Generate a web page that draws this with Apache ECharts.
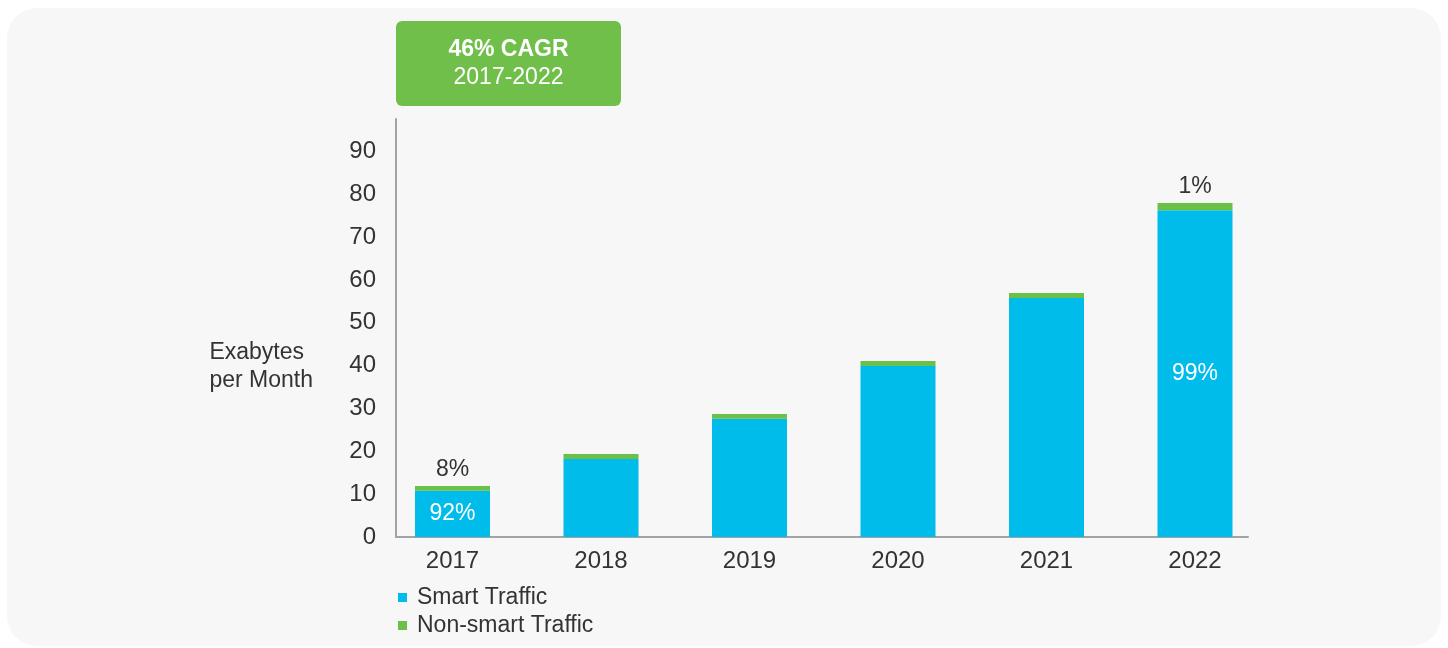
<!DOCTYPE html>
<html>
<head>
<meta charset="utf-8">
<script src="https://cdn.jsdelivr.net/npm/echarts@6/dist/echarts.min.js"></script>
<style>
  html, body { margin: 0; padding: 0; background: #fff; }
  #panel {
    position: absolute; left: 7px; top: 8px; width: 1434px; height: 638px;
    background: #f7f7f7; border-radius: 30px;
  }
  #chart { position: absolute; left: 0; top: 0; width: 1448px; height: 648px; }
</style>
</head>
<body>
<div id="panel"></div>
<div id="chart"></div>
<script>
// Data (exabytes per month)
const years = ['2017', '2018', '2019', '2020', '2021', '2022'];
const smartTraffic = [10.8, 18.2, 27.6, 39.9, 55.8, 76.3];
const nonSmartTraffic = [1.1, 1.2, 1.1, 1.2, 1.2, 1.7];
const smartShare = ['92%', '', '', '', '', '99%'];
const nonSmartShare = ['8%', '', '', '', '', '1%'];
const yTicks = [0, 10, 20, 30, 40, 50, 60, 70, 80, 90];

const font = '"Liberation Sans", Arial, sans-serif';
const textColor = '#333333';
const axisColor = '#a3a3a3';
const yMax = 97.6;

const chart = echarts.init(document.getElementById('chart'));

const option = {
  backgroundColor: 'transparent',
  textStyle: { fontFamily: font },
  grid: [
    // grid 0 only carries the axis lines and y labels
    { left: 396, top: 119, width: 852, height: 418 },
    // grid 1 holds the bars, its bands start left of the y axis
    { left: 378.25, top: 119, width: 891, height: 418 }
  ],
  xAxis: [
    {
      gridIndex: 0, type: 'value', min: 0, max: 1,
      axisLine: { show: true, lineStyle: { color: axisColor, width: 2 } },
      axisTick: { show: false }, axisLabel: { show: false }, splitLine: { show: false }
    },
    {
      gridIndex: 1, type: 'category', data: years,
      axisLine: { show: false }, axisTick: { show: false },
      axisLabel: { fontSize: 24, color: textColor, margin: 12, fontFamily: font }
    }
  ],
  yAxis: [
    {
      gridIndex: 0, type: 'value', min: 0, max: yMax, interval: 10,
      axisLine: { show: true, lineStyle: { color: axisColor, width: 2 } },
      axisTick: { show: false }, splitLine: { show: false },
      axisLabel: {
        fontSize: 24, color: textColor, margin: 20, fontFamily: font,
        padding: [0, 0, 10, 0],
        formatter: (v) => (yTicks.includes(v) ? String(v) : '')
      }
    },
    { gridIndex: 1, type: 'value', min: 0, max: yMax, show: false }
  ],
  legend: {
    orient: 'vertical', left: 393, top: 581,
    icon: 'rect', itemWidth: 9, itemHeight: 9, itemGap: 5,
    textStyle: { fontSize: 23, color: textColor, fontFamily: font, padding: [0, 0, 0, 5] },
    data: ['Smart Traffic', 'Non-smart Traffic']
  },
  series: [
    {
      name: 'Smart Traffic', type: 'bar', stack: 'total',
      xAxisIndex: 1, yAxisIndex: 1, barWidth: 75,
      itemStyle: { color: '#00bceb' },
      label: {
        show: true, position: 'inside', color: '#ffffff', fontSize: 23, fontFamily: font,
        formatter: (p) => smartShare[p.dataIndex]
      },
      data: smartTraffic
    },
    {
      name: 'Non-smart Traffic', type: 'bar', stack: 'total',
      xAxisIndex: 1, yAxisIndex: 1, barWidth: 75,
      itemStyle: { color: '#6cc04a' },
      label: {
        show: true, position: 'top', distance: 5, color: textColor, fontSize: 23, fontFamily: font,
        formatter: (p) => nonSmartShare[p.dataIndex]
      },
      data: nonSmartTraffic
    }
  ],
  graphic: [
    {
      type: 'text', right: 1448 - 313, top: 339,
      style: {
        text: 'Exabytes\nper Month', align: 'right', lineHeight: 28,
        font: '23px ' + font, fill: textColor
      }
    },
    {
      type: 'group', left: 396, top: 21,
      children: [
        { type: 'rect', shape: { x: 0, y: 0, width: 225, height: 85, r: 6 }, style: { fill: '#70bf4a' } },
        {
          type: 'text', x: 112.5, y: 29,
          style: { text: '46% CAGR', align: 'center', verticalAlign: 'middle', font: 'bold 23px ' + font, fill: '#fff' }
        },
        {
          type: 'text', x: 112.5, y: 57,
          style: { text: '2017-2022', align: 'center', verticalAlign: 'middle', font: '23px ' + font, fill: '#fff' }
        }
      ]
    }
  ]
};

chart.setOption(option);
</script>
</body>
</html>
